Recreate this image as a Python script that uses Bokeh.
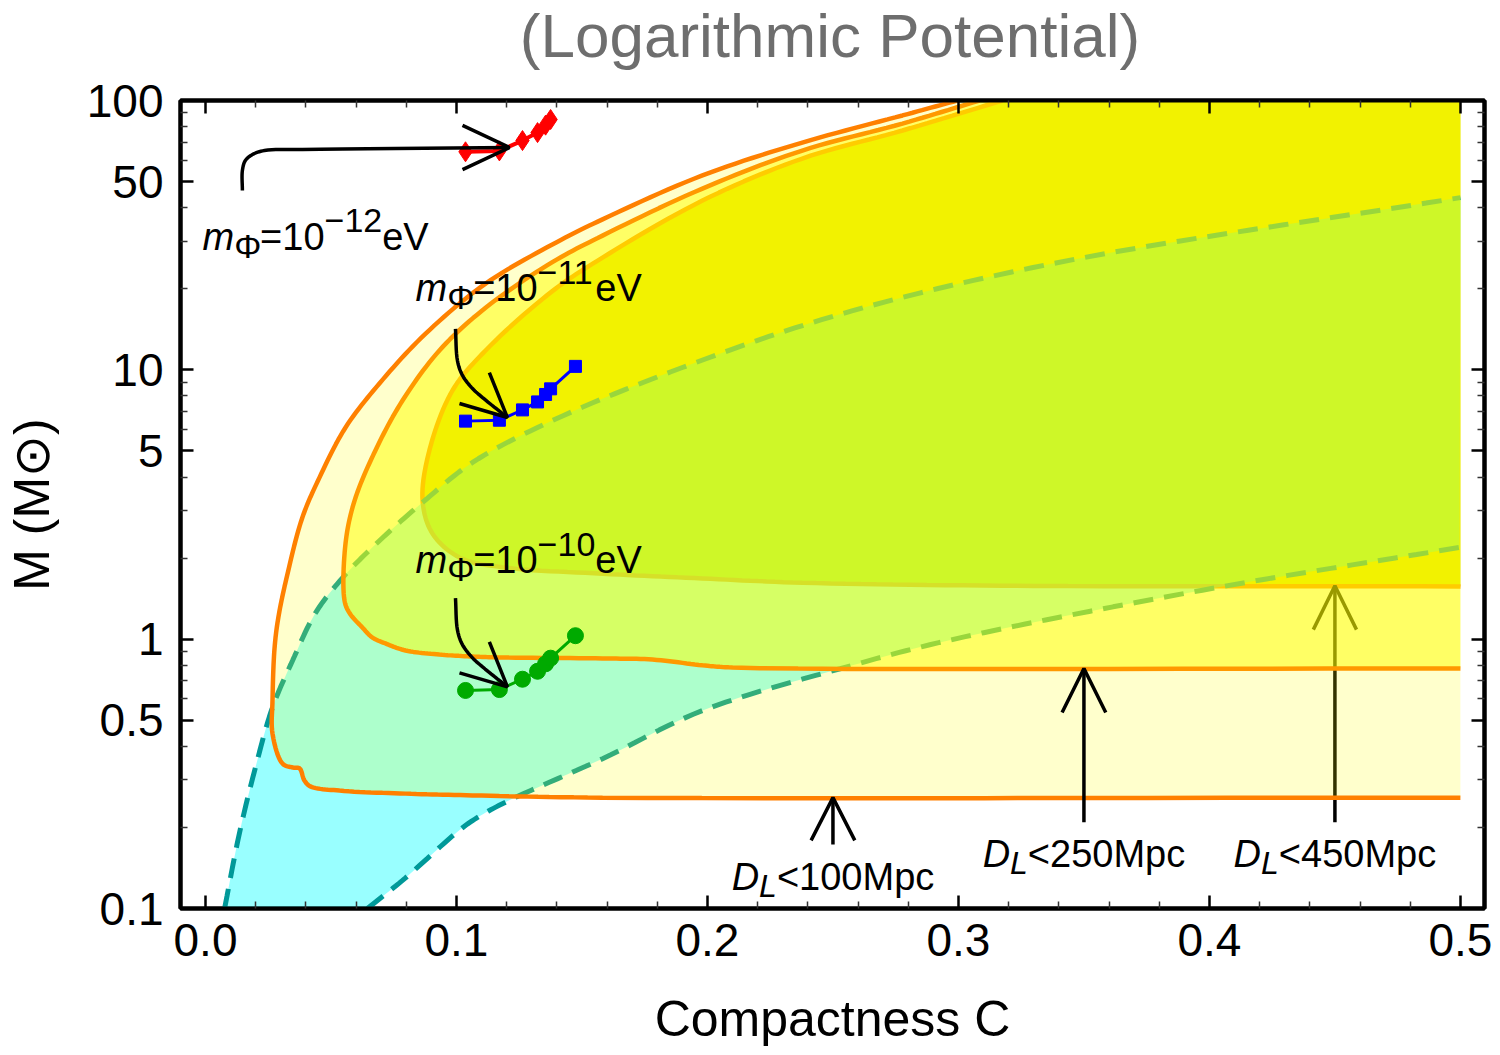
import numpy as np
from bokeh.plotting import figure
from bokeh.models import Range1d, FixedTicker, LinearAxis, LogAxis, CustomJSTickFormatter, Div
from bokeh.layouts import column
from bokeh.embed import file_html
from bokeh.resources import INLINE
from bokeh.core.properties import value

FONT = "Liberation Sans"

# ---------------- data ----------------
# detectability region boundaries (compactness C, mass M in solar masses)
d100_C = [0.2996, 0.2777, 0.2378, 0.1980, 0.1582, 0.1382, 0.1116, 0.0876, 0.0693, 0.0558,
          0.0454, 0.0386, 0.0325, 0.0290, 0.0275, 0.0267, 0.0267, 0.0307, 0.0347, 0.0375,
          0.0394, 0.0418, 0.0534, 0.0797, 0.1064, 0.1582, 0.5]
d100_M = [100, 88.0, 69.8, 52.7, 36.2, 29.2, 20.9, 13.6, 8.90, 6.11,
          3.98, 2.83, 1.72, 1.20, 0.923, 0.592, 0.446, 0.345, 0.334, 0.331,
          0.299, 0.284, 0.274, 0.267, 0.263, 0.258, 0.258]

d250_C = [0.3084, 0.2777, 0.2378, 0.1980, 0.1582, 0.1382, 0.1116, 0.0932, 0.0785, 0.0677,
          0.0594, 0.0558, 0.0554, 0.0574, 0.0625, 0.0665, 0.0717, 0.0797, 0.0932, 0.1064,
          0.1183, 0.1582, 0.1781, 0.1980, 0.2100, 0.5]
d250_M = [100, 82.1, 65.2, 47.1, 31.5, 25.1, 17.0, 11.8, 7.69, 5.02,
          3.27, 2.27, 1.39, 1.25, 1.105, 1.014, 0.964, 0.908, 0.877, 0.862,
          0.855, 0.848, 0.840, 0.800, 0.785, 0.778]

d450_C = [0.3175, 0.2777, 0.2378, 0.1980, 0.1582, 0.1382, 0.1116, 0.0984, 0.0892, 0.0865,
          0.0904, 0.1012, 0.1183, 0.1582, 0.1980, 0.2378, 0.3175, 0.5]
d450_M = [100, 77.4, 60.9, 42.5, 26.1, 19.6, 11.8, 8.38, 5.02, 3.27,
          2.47, 2.01, 1.85, 1.75, 1.68, 1.62, 1.58, 1.57]

# band between the two dashed curves
upper_C = [0.0076, 0.0135, 0.0199, 0.0267, 0.0347, 0.0438, 0.0546, 0.0693, 0.0865, 0.1064,
           0.1382, 0.1900, 0.2510, 0.3375, 0.5]
upper_M = [0.1, 0.190, 0.334, 0.558, 0.833, 1.25, 1.69, 2.32, 3.22, 4.53,
           6.48, 10.2, 15.9, 24.8, 43.6]
lower_C = [0.0645, 0.0797, 0.0996, 0.1064, 0.1183, 0.1582, 0.1980, 0.2574, 0.2960, 0.3972, 0.4996]
lower_M = [0.1, 0.130, 0.190, 0.212, 0.245, 0.360, 0.543, 0.798, 0.989, 1.52, 2.19]

# boson-star sequences
mass_C = [0.1036, 0.1171, 0.1263, 0.1323, 0.1355, 0.1375, 0.1474]
m12_M = [64.5, 65.0, 71.0, 76.0, 81.0, 85.0]
m11_M = [6.45, 6.5, 7.1, 7.6, 8.1, 8.5, 10.3]
m10_M = [0.645, 0.65, 0.71, 0.76, 0.81, 0.85, 1.03]

x_ticks = [0.0, 0.1, 0.2, 0.3, 0.4, 0.5]
x_tick_labels = ["0.0", "0.1", "0.2", "0.3", "0.4", "0.5"]
x_minor = [0.02, 0.04, 0.06, 0.08, 0.12, 0.14, 0.16, 0.18, 0.22, 0.24, 0.26, 0.28,
           0.32, 0.34, 0.36, 0.38, 0.42, 0.44, 0.46, 0.48]
y_ticks = [0.1, 0.5, 1, 5, 10, 50, 100]
y_tick_labels = ["0.1", "0.5", "1", "5", "10", "50", "100"]
y_minor = [0.2, 0.3, 0.4, 0.6, 0.7, 0.8, 0.9, 2, 3, 4, 6, 7, 8, 9, 20, 30, 40, 60, 70, 80, 90]

title_text = "(Logarithmic Potential)"
x_label = "Compactness C"
y_label = "M (M\u2299)"

# ---------------- figure ----------------
p = figure(frame_width=1304, frame_height=808,
           x_range=Range1d(-0.00996, 0.5096), y_range=Range1d(0.1, 100),
           y_axis_type="log", output_backend="svg", toolbar_location=None,
           min_border_left=178, min_border_right=18, min_border_top=30, min_border_bottom=147,
           background_fill_color="white", border_fill_color="white")
p.xgrid.visible = False
p.ygrid.visible = False
p.outline_line_color = "black"
p.outline_line_width = 4
p.title.text = ""
p.title.standoff = 0
p.title.visible = False

bx = p.xaxis[0]
ly = p.yaxis[0]

xt = FixedTicker(ticks=x_ticks, minor_ticks=x_minor)
yt = FixedTicker(ticks=y_ticks, minor_ticks=y_minor)
bx.ticker = xt
ly.ticker = yt
bx.major_label_overrides = dict(zip(x_ticks, x_tick_labels))
ly.major_label_overrides = dict(zip(y_ticks, y_tick_labels))
bx.axis_label = x_label
ly.axis_label = y_label

top_ax = LinearAxis(ticker=xt, formatter=CustomJSTickFormatter(code="return ''"),
                    major_label_text_font_size="0px", major_label_standoff=0)
right_ax = LogAxis(ticker=yt, formatter=CustomJSTickFormatter(code="return ''"),
                   major_label_text_font_size="0px", major_label_standoff=0)
p.add_layout(top_ax, "above")
p.add_layout(right_ax, "right")

for ax in [bx, ly, top_ax, right_ax]:
    ax.axis_line_width = 4
    ax.axis_line_color = "black"
    ax.major_tick_in = 13
    ax.major_tick_out = 0
    ax.minor_tick_in = 7
    ax.minor_tick_out = 0
    ax.major_tick_line_width = 2.5
    ax.minor_tick_line_width = 1.5
    ax.major_tick_line_color = "black"
    ax.minor_tick_line_color = "#333333"

for ax in [bx, ly]:
    ax.major_label_text_font = FONT
    ax.major_label_text_font_size = "46px"
    ax.major_label_text_color = "black"
    ax.axis_label_text_font = FONT
    ax.axis_label_text_font_size = "50px"
    ax.axis_label_text_font_style = "normal"
    ax.axis_label_text_color = "black"
bx.major_label_standoff = 15
ly.major_label_standoff = 17
bx.axis_label_standoff = 32
ly.axis_label_standoff = 24

ORANGE = (255, 128, 0)
YELLOW = (255, 255, 0)
SX, SY = 2510.0, 269.33   # pixel-like scaling for smoothing in screen-ish space


def smooth(xs, ys, n=12):
    """Centripetal Catmull-Rom curve through the read points (C linear, M log)."""
    P = np.column_stack([np.asarray(xs, float) * SX, np.log10(np.asarray(ys, float)) * SY])
    P = np.vstack([2 * P[0] - P[1], P, 2 * P[-1] - P[-2]])
    out = []
    for i in range(1, len(P) - 2):
        p0, p1, p2, p3 = P[i - 1], P[i], P[i + 1], P[i + 2]
        t0 = 0.0
        t1 = t0 + max(np.linalg.norm(p1 - p0), 1e-6) ** 0.5
        t2 = t1 + max(np.linalg.norm(p2 - p1), 1e-6) ** 0.5
        t3 = t2 + max(np.linalg.norm(p3 - p2), 1e-6) ** 0.5
        for t in np.linspace(t1, t2, n, endpoint=False):
            A1 = (t1 - t) / (t1 - t0) * p0 + (t - t0) / (t1 - t0) * p1
            A2 = (t2 - t) / (t2 - t1) * p1 + (t - t1) / (t2 - t1) * p2
            A3 = (t3 - t) / (t3 - t2) * p2 + (t - t2) / (t3 - t2) * p3
            B1 = (t2 - t) / (t2 - t0) * A1 + (t - t0) / (t2 - t0) * A2
            B2 = (t3 - t) / (t3 - t1) * A2 + (t - t1) / (t3 - t1) * A3
            out.append((t2 - t) / (t2 - t1) * B1 + (t - t1) / (t2 - t1) * B2)
    out.append(P[-2])
    out = np.array(out)
    return list(out[:, 0] / SX), list(10 ** (out[:, 1] / SY))


s450 = smooth(d450_C, d450_M)
s250 = smooth(d250_C, d250_M)
s100 = smooth(d100_C, d100_M)
sup = smooth(upper_C, upper_M)
slo = smooth(lower_C, lower_M)

# ---- layer 1: D<450 Mpc region (drawn first, under everything) ----
p.patch(s450[0] + [0.5], s450[1] + [100], fill_color=(222, 222, 0), line_color=None)
p.line(s450[0], s450[1], line_color=ORANGE, line_width=4.5)

# D<450 arrow (sits under the lighter layers)
p.line([0.45, 0.45], [0.209, 1.58], line_color="black", line_width=3.5)
p.line([0.4414, 0.45, 0.4586], [1.085, 1.58, 1.085], line_color="black", line_width=3.5)

# ---- layer 2: band between dashed curves ----
p.patch(sup[0] + slo[0][::-1], sup[1] + slo[1][::-1],
        fill_color=(0, 255, 255), fill_alpha=0.4, line_color=None)
p.line(sup[0], sup[1], line_color=(0, 153, 153), line_width=5, line_dash="20 11")
p.line(slo[0], slo[1], line_color=(0, 153, 153), line_width=5, line_dash="20 11")

# ---- layer 3: D<250 Mpc ----
p.patch(s250[0] + [0.5], s250[1] + [100], fill_color=YELLOW, fill_alpha=0.5, line_color=None)
p.line(s250[0], s250[1], line_color=ORANGE, line_width=4.5)

# ---- layer 4: D<100 Mpc ----
p.patch(s100[0] + [0.5], s100[1] + [100], fill_color=YELLOW, fill_alpha=0.2, line_color=None)
p.line(s100[0], s100[1], line_color=ORANGE, line_width=4.5)

# D<100 and D<250 arrows
p.line([0.25, 0.25], [0.173, 0.258], line_color="black", line_width=3.5)
p.line([0.2413, 0.25, 0.2587], [0.179, 0.258, 0.179], line_color="black", line_width=3.5)
p.line([0.35, 0.35], [0.209, 0.778], line_color="black", line_width=3.5)
p.line([0.3413, 0.35, 0.3587], [0.534, 0.778, 0.534], line_color="black", line_width=3.5)

# ---------------- rich text helper ----------------
WIDTHS = {'0': .556, '1': .556, '2': .556, '4': .556, '5': .556, '<': .584, 'M': .833,
          'p': .556, 'c': .5, 'D': .722, 'L': .556, 'm': .833, '=': .584, '\u2212': .584,
          'e': .556, 'V': .667, '\u03a6': .763}
BASE_SHIFT = -12   # compensates the renderer's baseline placement


def tw(s, size):
    return sum(WIDTHS.get(ch, .556) for ch in s) * size


def rich_text(x, y, parts, center=False):
    total = sum(tw(t, sz) for t, sz, dy, it in parts)
    off = -total / 2 if center else 0.0
    for t, sz, dy, it in parts:
        p.text(x=[x], y=[y], text=[t], x_offset=off, y_offset=dy + BASE_SHIFT,
               text_font=value(FONT), text_font_size=f"{sz}px",
               text_font_style="italic" if it else "normal",
               text_baseline="alphabetic", text_align="left", text_color="black")
        off += tw(t, sz)


def dl_label(x, y, dist):
    rich_text(x, y, [("D", 38, 0, True), ("L", 32, 9, True), ("<" + dist + "Mpc", 38, 0, False)],
              center=True)


dl_label(0.25, 0.1186, "100")
dl_label(0.35, 0.1444, "250")
dl_label(0.45, 0.1444, "450")

# ---------------- boson star sequences ----------------
n12 = len(m12_M)
p.line(mass_C[:n12], m12_M, line_color="red", line_width=4)
p.scatter(mass_C[:n12], m12_M, marker="diamond", size=20, fill_color="red", line_color="red")
p.line(mass_C, m11_M, line_color="blue", line_width=3)
p.scatter(mass_C, m11_M, marker="square", size=12, fill_color="blue", line_color="blue")
p.line(mass_C, m10_M, line_color="#00AA00", line_width=3)
p.scatter(mass_C, m10_M, marker="circle", size=16, fill_color="#00AA00", line_color="#00AA00")

# curved pointer arrows
a12_C = [0.0147, 0.0147, 0.0159, 0.0187, 0.0235, 0.0386, 0.1211]
a12_M = [46.3, 55.0, 59.9, 63.0, 65.2, 65.8, 66.9]
s12 = smooth(a12_C, a12_M, n=8)
p.line(s12[0], s12[1], line_color="black", line_width=3.5)
p.line([0.1024, 0.1211, 0.1024], [80.8, 66.9, 55.4], line_color="black", line_width=3.5)

a11_C = [0.0996, 0.1004, 0.1024, 0.1064, 0.1104, 0.1203]
a11_M = [14.2, 10.8, 9.53, 8.52, 7.89, 6.65]
s11 = smooth(a11_C, a11_M, n=8)
p.line(s11[0], s11[1], line_color="black", line_width=3.5)
p.line([0.1131, 0.1203, 0.1012], [9.77, 6.65, 7.50], line_color="black", line_width=3.5)

a10_M = [m / 10 for m in a11_M]
s10 = smooth(a11_C, a10_M, n=8)
p.line(s10[0], s10[1], line_color="black", line_width=3.5)
p.line([0.1131, 0.1203, 0.1012], [0.977, 0.665, 0.750], line_color="black", line_width=3.5)


def mass_label(x, y, exp):
    rich_text(x, y, [("m", 38, 0, True), ("\u03a6", 34, 9, False), ("=10", 38, 0, False),
                     ("\u2212" + exp, 34, -16, False), ("eV", 38, 0, False)])


mass_label(-0.0012, 28.2, "12")
mass_label(0.0837, 18.1, "11")
mass_label(0.0837, 1.77, "10")

# title as a text block above the plot, centred over the frame
title_div = Div(text=title_text, width=1304, height=70, margin=(0, 0, 0, 178),
                styles={"font-family": FONT, "font-size": "62px", "color": "#6E6E6E",
                        "text-align": "center", "line-height": "71px", "white-space": "nowrap"})
layout = column(title_div, p, spacing=0)

open("out.html", "w").write(file_html(layout, INLINE))
